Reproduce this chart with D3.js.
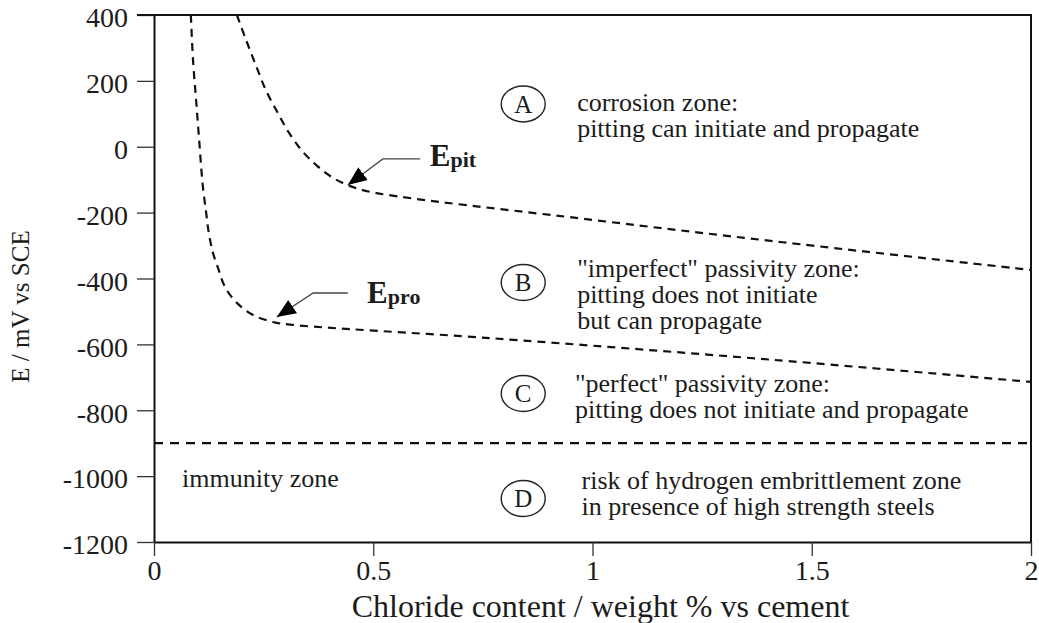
<!DOCTYPE html>
<html>
<head>
<meta charset="utf-8">
<script src="https://cdn.jsdelivr.net/npm/d3@7"></script>
<style>
  body { margin: 0; background: #fff; }
  text { font-family: "Liberation Serif", "Times New Roman", serif; fill: #1c1c1c; }
</style>
</head>
<body>
<div id="chart"></div>
<script>
// values
const xTicks = [0, 0.5, 1, 1.5, 2];
const yTicks = [400, 200, 0, -200, -400, -600, -800, -1000, -1200];

const epitX = [0.189, 0.210, 0.233, 0.255, 0.281, 0.308, 0.338, 0.372, 0.409, 0.447, 0.493, 1.0, 1.434, 2.0];
const epitE = [400, 324, 245, 172, 106, 42, -13, -58, -95, -119, -137, -222, -290, -374];

const eproX = [0.084, 0.089, 0.096, 0.103, 0.111, 0.119, 0.125, 0.134, 0.146, 0.162, 0.189, 0.226, 0.271, 0.310, 0.766, 1.412, 2.0];
const eproE = [400, 263, 142, 20, -115, -201, -262, -320, -368, -426, -474, -511, -532, -540, -581, -647, -714];

const immunityE = -900;

const zoneLetters = ["A", "B", "C", "D"];
const zoneLetterE = [130, -412, -749, -1068];
const zoneLines = [
  ["corrosion zone:", "pitting can initiate and propagate"],
  ["\"imperfect\" passivity zone:", "pitting does not initiate", "but can propagate"],
  ["\"perfect\" passivity zone:", "pitting does not initiate and propagate"],
  ["risk of hydrogen embrittlement zone", "in presence of high strength steels"]
];
const zoneTextX = [0.965, 0.965, 0.96, 0.975];
const zoneTextE = [109, -395, -745, -1039];

let width = 1039, height = 623,
    margin = ({ top: 15, right: 8, bottom: 81, left: 154 });

const svg = d3.select("#chart")
    .append("svg")
    .attr("width", width)
    .attr("height", height);

let x = d3.scaleLinear()
    .domain([0, 2])
    .range([margin.left, width - margin.right]);

let y = d3.scaleLinear()
    .domain([-1200, 400])
    .range([height - margin.bottom, margin.top]);

// axes
let yAxis = svg.append("g")
    .attr("transform", `translate(${margin.left},0)`)
    .call(d3.axisLeft(y).tickValues(yTicks).tickFormat(d => String(d)).tickSize(17).tickSizeOuter(0).tickPadding(9));

yAxis.selectAll("text")
    .attr("font-size", 28)
    .attr("dy", "0.42em");

let xAxis = svg.append("g")
    .attr("transform", `translate(0,${height - margin.bottom})`)
    .call(d3.axisBottom(x).tickValues(xTicks).tickFormat(d => String(d)).tickSize(14).tickSizeOuter(0).tickPadding(4));

xAxis.selectAll("text")
    .attr("font-size", 28);

svg.selectAll(".domain").attr("stroke", "#111").attr("stroke-width", 2);
svg.selectAll(".tick line").attr("stroke", "#333").attr("stroke-width", 1.3);

// box top and right
svg.append("path")
    .attr("d", `M${margin.left - 17},${y(400)}H${x(2)}V${y(-1200)}`)
    .attr("fill", "none")
    .attr("stroke", "#111")
    .attr("stroke-width", 2);

// axis titles
svg.append("text")
    .attr("x", x(1) + 8)
    .attr("y", 617)
    .attr("text-anchor", "middle")
    .attr("font-size", 32)
    .text("Chloride content / weight % vs cement");

svg.append("text")
    .attr("transform", `translate(29,${(y(400) + y(-1200)) / 2 + 28}) rotate(-90)`)
    .attr("text-anchor", "middle")
    .attr("font-size", 25)
    .text("E / mV vs SCE");

// dashed curves
let line = d3.line()
    .x(d => x(d[0]))
    .y(d => y(d[1]))
    .curve(d3.curveCatmullRom.alpha(0.5));

let curves = [d3.zip(epitX, epitE), d3.zip(eproX, eproE)];

svg.append("g")
    .selectAll("path")
    .data(curves)
    .join("path")
    .attr("d", line)
    .attr("fill", "none")
    .attr("stroke", "#111")
    .attr("stroke-width", 2.2)
    .attr("stroke-dasharray", "8,6");

svg.append("line")
    .attr("x1", x(0))
    .attr("x2", x(2))
    .attr("y1", y(immunityE))
    .attr("y2", y(immunityE))
    .attr("stroke", "#111")
    .attr("stroke-width", 2.2)
    .attr("stroke-dasharray", "9,7");

// arrows to the curves
svg.append("defs").append("marker")
    .attr("id", "head")
    .attr("viewBox", "0 0 10 10")
    .attr("refX", 10).attr("refY", 5)
    .attr("markerWidth", 19).attr("markerHeight", 19)
    .attr("markerUnits", "userSpaceOnUse")
    .attr("orient", "auto")
    .append("path")
    .attr("d", "M0,0.8L10,5L0,9.2Z")
    .attr("fill", "#000");

let arrows = [
  [[0.607, -37], [0.522, -37], [0.442, -116]],
  [[0.442, -444], [0.363, -444], [0.280, -517]]
];

svg.append("g")
    .selectAll("path")
    .data(arrows)
    .join("path")
    .attr("d", d3.line().x(d => x(d[0])).y(d => y(d[1])))
    .attr("fill", "none")
    .attr("stroke", "#444")
    .attr("stroke-width", 1.3)
    .attr("marker-end", "url(#head)");

let curveLabels = [["E", "pit", 0.629, -58], ["E", "pro", 0.486, -475]];
for (let [main, sub, lx, le] of curveLabels) {
  let t = svg.append("text")
    .attr("x", x(lx))
    .attr("y", y(le))
    .attr("font-weight", "bold")
    .attr("font-size", 31);
  t.append("tspan").text(main);
  t.append("tspan").attr("font-size", 22).attr("dy", 1).text(sub);
}

// zone markers and notes
svg.append("g")
    .selectAll("ellipse")
    .data(zoneLetters)
    .join("ellipse")
    .attr("cx", x(0.842))
    .attr("cy", (d, i) => y(zoneLetterE[i]))
    .attr("rx", 22)
    .attr("ry", 18)
    .attr("fill", "none")
    .attr("stroke", "#222")
    .attr("stroke-width", 1.4);

svg.append("g")
    .selectAll("text")
    .data(zoneLetters)
    .join("text")
    .attr("x", x(0.842))
    .attr("y", (d, i) => y(zoneLetterE[i]))
    .attr("dy", "0.35em")
    .attr("text-anchor", "middle")
    .attr("font-size", 25)
    .text(d => d);

zoneLines.forEach((lines, i) => {
  lines.forEach((s, j) => {
    svg.append("text")
      .attr("x", x(zoneTextX[i]))
      .attr("y", y(zoneTextE[i]) + j * 26)
      .attr("font-size", 26)
      .text(s);
  });
});

svg.append("text")
    .attr("x", x(0.064))
    .attr("y", y(-1033))
    .attr("font-size", 26)
    .text("immunity zone");
</script>
</body>
</html>
